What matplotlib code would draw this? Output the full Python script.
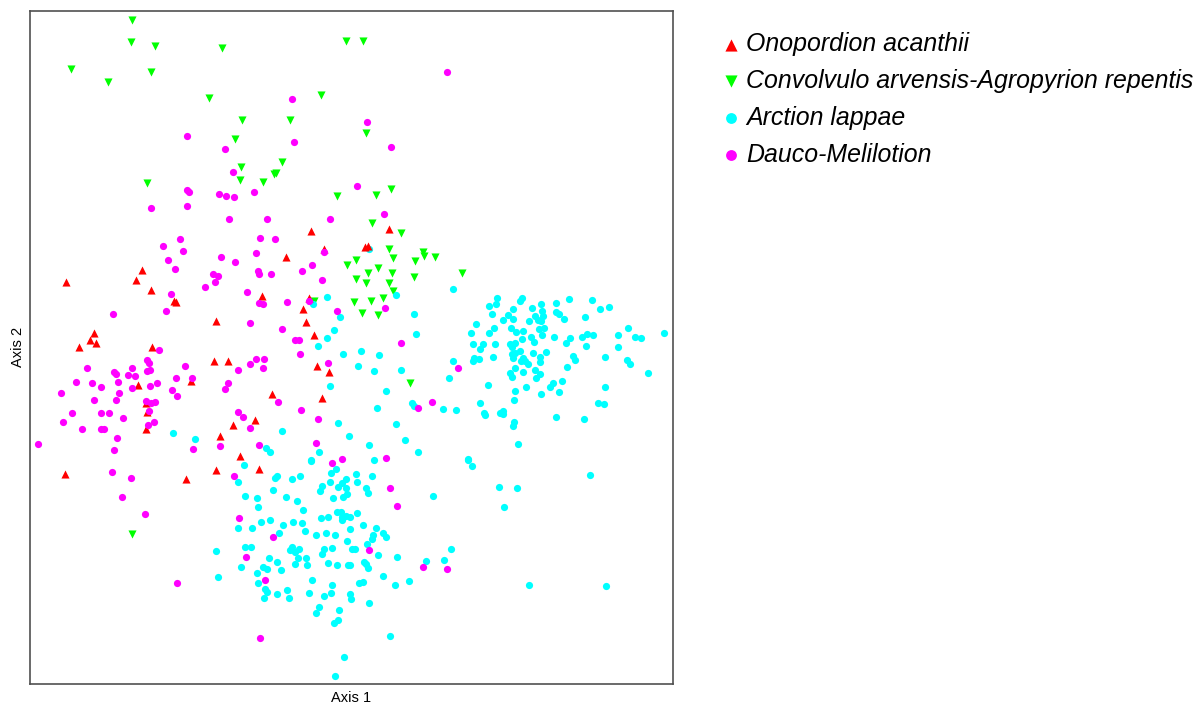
#!/usr/bin/env python3
"""
Ordination scatter of four plant alliances (values read off the picture, in picture pixels).
"""

import matplotlib

matplotlib.use("Agg")
import matplotlib.pyplot as plt

onopordion = [
    (310.7, 230.7), (389.3, 229), (365, 247.3), (368.3, 245.7), (323.7, 249.3), (286.3, 257), (141.7, 269.7),
    (136, 279.7), (66, 281.7), (150.7, 290.3), (174.3, 301), (175.7, 302.3), (262, 295.7), (309.3, 297.7),
    (303.3, 308.7), (215.7, 321), (306, 321.7), (314.3, 335), (94.3, 333), (89.7, 340), (96.3, 343.3),
    (79, 347.3), (152, 347.3), (214, 361), (228.3, 361), (317, 366), (329, 372.3), (191, 381), (138.3, 385.3),
    (272, 394.3), (321.7, 398.3), (146, 403), (147, 411.7), (255, 420), (233, 425.3), (146, 429), (220, 435.7),
    (240.3, 456), (65.3, 474.3), (186.3, 479), (215.7, 470.3), (258.7, 468.7),
]

convolvulo = [
    (131.7, 20), (131.3, 41.7), (155.3, 46), (222.3, 47.7), (346, 40.7), (70.7, 68.7), (108, 82), (151.3, 72),
    (208.7, 98.3), (320.7, 95.3), (242.3, 120.3), (289.7, 120.3), (235.3, 138.7), (282.3, 161.7), (241.3, 167),
    (240.3, 179.7), (275.7, 172.7), (274.3, 174), (263.3, 181.7), (146.7, 182.7), (337.3, 196.3), (363.3, 41.3),
    (365.7, 132.7), (376.3, 195.3), (390.7, 189.3), (371.7, 222.7), (400.7, 232.7), (389.3, 249), (423.3, 251.7),
    (423.7, 256), (435, 256.7), (393, 258.3), (415.3, 261), (355.7, 260), (378, 268.3), (368, 273.3),
    (392.3, 273.3), (462.3, 273.3), (355.7, 279), (414, 277.3), (365.7, 283.3), (389.3, 282.7), (393, 291),
    (354, 301.7), (371, 301), (383, 298), (362, 313.3), (378, 315), (410, 383), (346.7, 265), (314.3, 300.7),
    (132.3, 534),
]

arction = [
    (326.7, 296.7), (313, 304), (339.7, 316.7), (333.7, 330), (326.7, 338.3), (318.3, 346), (342.7, 353.7),
    (361, 350.5), (358, 365.7), (329.7, 385.7), (338, 423.3), (349, 436.3), (281.7, 431), (172.7, 433.3),
    (194.7, 438.7), (266, 447.7), (270.3, 451.7), (319, 452.3), (311, 460), (369.3, 249), (396.3, 294.7),
    (453.3, 289.3), (413.7, 314.3), (416, 333.7), (379.3, 355), (453.3, 360.7), (374, 371.3), (401.3, 370.3),
    (448.7, 378), (385.7, 391.3), (412.3, 402.7), (413.7, 406), (377.3, 408), (442.7, 408.7), (456.3, 410.3),
    (395.7, 424), (368.7, 444.7), (404.7, 440), (418.3, 451.7), (374, 459.7), (467.7, 459.3),
    (497, 297.7), (496, 304), (489.3, 305.7), (522, 298.3), (520.3, 300.7), (512.7, 309), (532, 307.7),
    (541, 304.3), (542, 310.7), (555.7, 303), (568.7, 299.3), (591.7, 300), (609, 307), (600, 309), (555.7, 312),
    (559.3, 314.3), (564, 319), (585.3, 316.7), (492.3, 314.3), (508.3, 315.3), (503, 320), (513.3, 319),
    (529, 320.7), (535.3, 316), (543.3, 316), (537.7, 320), (541.3, 320.7), (476.3, 323.7), (494.3, 327.7),
    (488.7, 333), (470.7, 333), (510.7, 327.7), (515.7, 331.7), (522.7, 331.3), (538.7, 329.3), (544, 328.3),
    (541.7, 335), (530.7, 336.7), (522, 339), (534.3, 342), (554.3, 336.7), (570, 337.7), (566.3, 342.7),
    (582.3, 336.7), (587.3, 333.7), (593, 335.3), (586, 346), (618.3, 335.3), (628.3, 327.7), (634.7, 336.7),
    (641, 337.7), (663.7, 333), (618.3, 347.3), (473, 344.3), (483, 344.3), (480.3, 348.7), (495.3, 344.3),
    (510, 343.7), (514.7, 342.7), (512.3, 347), (519.7, 351.3), (512.3, 353.7), (533.3, 353), (546.3, 351.7),
    (515, 353.3), (513, 358.3), (493.3, 356.7), (474.3, 358.3), (479.3, 359), (472.7, 361), (522.7, 357.7),
    (521.3, 360.7), (525.3, 360.7), (528, 364), (540.3, 357), (539.7, 362), (572.7, 356.3), (575.3, 360),
    (605, 356.7), (627.3, 360), (629.7, 364.3), (567.3, 366.7), (515.3, 368), (510, 372.7), (512.3, 377),
    (523.3, 372), (535, 370.3), (540.3, 374), (536, 378), (648, 373.3), (561.7, 381.3), (553.3, 382.7),
    (550.3, 386.7), (488, 385), (526, 386.7), (515, 390.7), (559.3, 391.7), (541, 394), (605, 387.3),
    (514.3, 400.3), (479.7, 402.7), (598, 403.3), (603.7, 404), (484.3, 413.3), (485.3, 415), (500.3, 413.3),
    (503.3, 411), (503.3, 413.7), (556.3, 417.3), (584.3, 419.3), (513.7, 422.3), (512.7, 426.3), (517.7, 444),
    (468, 460), (471.7, 466), (355.7, 474), (372.3, 476), (590, 474.7), (357.3, 481.7), (365.7, 487.7),
    (368.3, 493), (499, 486.7), (516.7, 487.7), (432.7, 496), (504.3, 507), (356.7, 513), (350, 517.3),
    (362.7, 525.3), (375.7, 527.7), (350, 529), (383.3, 533), (386.3, 536.7), (373.3, 535), (372.3, 539),
    (367, 544.3), (352.3, 548.7), (355, 548.7), (378, 555), (397, 556.7), (451.3, 548.7), (426, 561.3),
    (443.7, 559.7), (363.7, 561.7), (365.7, 564.3), (368, 568), (350, 565), (383, 575.7), (358.7, 582.7),
    (363.3, 581.7), (394.7, 585), (409, 581), (529, 585), (606, 585.7), (350, 594), (351, 598.7), (368.7, 603.3),
    (390, 635.7), (244.3, 464.7), (237.7, 481.7), (310.7, 461), (275, 477.7), (276.7, 476), (291.7, 478.7),
    (300, 476.3), (272.7, 490), (245.3, 496), (256.7, 498.3), (258, 507), (285.7, 496.7), (297.3, 500.7),
    (303.3, 510), (331.3, 473.3), (335.7, 469.3), (330, 482.3), (322.3, 486), (319.7, 490.7), (338.3, 486.7),
    (341.7, 483.3), (345.7, 479), (345.7, 488.3), (346.7, 494), (343.3, 496.7), (332.7, 498), (337.3, 511.7),
    (340.7, 512.3), (346, 515.7), (342, 516.7), (342, 520), (320.7, 517.7), (327.7, 516.7), (293.3, 521.7),
    (301.7, 523), (270.3, 520), (261.3, 522), (282.7, 524.7), (237.7, 528.3), (252.3, 528.3), (305.3, 530.7),
    (278.7, 533), (326, 533), (316.3, 535.3), (335.3, 535.3), (347.3, 540.7), (215.7, 551.3), (245, 546.7),
    (251.3, 546.7), (290, 549.7), (292, 547.3), (299.3, 549.3), (295.3, 552), (323.7, 548.7), (322.3, 553.7),
    (332.3, 548), (269, 558.3), (276.7, 562), (297.7, 557.7), (305.7, 558), (295, 564.3), (307, 565),
    (328.3, 562.7), (337, 565), (348.3, 565), (241.3, 567.3), (263.3, 567.3), (267.3, 569), (281, 570.3),
    (256.7, 572.7), (217.7, 576.7), (257.7, 582.7), (311.7, 580.3), (331.7, 585), (265.3, 589.3), (267.3, 592.3),
    (276.7, 594.3), (287, 590.3), (308.7, 592.7), (264.3, 598), (288.7, 598), (323.7, 595.7), (330.7, 593.3),
    (319.3, 606.7), (339, 610.3), (316.3, 613.3), (337.7, 619.7), (334.3, 623.3), (344.3, 657), (335.3, 676),
]

dauco = [
    (291.7, 99.3), (186.7, 136), (294, 142.3), (224.7, 149), (233, 172), (356.7, 185.7), (187.3, 190.3),
    (189, 192), (218.7, 194.3), (225.7, 195.7), (234, 196.7), (253.7, 192), (151.3, 208), (187.3, 205.7),
    (228.7, 219), (267.3, 219.3), (329.7, 219), (180.3, 238.7), (260.3, 237.7), (275, 238.7), (446.7, 71.7),
    (367.3, 121.7), (390.7, 146.7), (384, 214), (384.7, 307.7), (400.7, 343), (458, 368), (432.3, 401.7),
    (418.3, 408), (386.3, 458.3), (163, 245.7), (183.3, 251), (324.3, 251.7), (220.7, 257), (255.7, 253.3),
    (168.3, 260), (235.3, 262.3), (312.3, 264.7), (175, 269.3), (301.7, 270.7), (258, 270.7), (258.7, 273.7),
    (271.3, 274), (213, 273.7), (218.3, 276.3), (321.7, 280), (215, 282.3), (205, 287), (170.7, 293.7),
    (246.7, 292.3), (309.3, 300.7), (287, 302.3), (259.3, 303.3), (263.3, 304), (165.7, 310.7), (113.3, 314.3),
    (336.7, 310.7), (250.3, 323), (282.3, 329), (295, 339.7), (298.7, 339.7), (159, 350.3), (300, 354.3),
    (146.7, 359.7), (149, 362.7), (256, 358.7), (264.3, 358.7), (249.7, 364.3), (262.7, 368), (184.7, 365.7),
    (86.7, 368), (131.7, 368), (237.7, 370.3), (327.7, 362.7), (113.7, 371.7), (116.3, 374), (147, 371),
    (150.3, 370.3), (127.7, 375), (134.7, 375.7), (175.7, 378), (192, 378), (76, 382), (92, 383.3), (118, 382),
    (101, 387), (132.3, 388), (150, 386.3), (157.3, 382.7), (227.7, 382.7), (225.3, 389), (61.3, 392.7),
    (119.3, 392.7), (172, 390.3), (176.7, 395.7), (93.7, 399.7), (115.7, 399.7), (278, 401.7), (146, 401),
    (151.3, 403.3), (155.3, 402), (300.7, 409.7), (72, 413.3), (101, 412.7), (108.7, 413.3), (149, 411),
    (238.3, 412.3), (243, 417), (123, 418), (317.7, 418.7), (62.7, 422.3), (153.7, 421.7), (148.3, 424.7),
    (250.3, 428), (81.7, 428.7), (101.3, 428.7), (104.3, 428.7), (117, 438), (37.7, 444), (258.7, 444.7),
    (220, 445.7), (316.3, 443.3), (193.3, 448.7), (114, 450), (342, 458.7), (332, 463), (111.7, 472.3),
    (130.7, 477.7), (234, 476.3), (121.7, 497), (145.3, 513.7), (239, 518.3), (273.3, 536.7), (246, 557.3),
    (265, 579.7), (177.3, 583.3), (260.3, 637.7), (390, 488.3), (397, 506), (369.3, 550.3), (423, 567),
    (446.7, 569),
]

group_names = [
    "Onopordion acanthii",
    "Convolvulo arvensis-Agropyrion repentis",
    "Arction lappae",
    "Dauco-Melilotion",
]

plt.rcParams["font.family"] = ["Liberation Sans", "DejaVu Sans"]

fig = plt.figure(figsize=(11.96, 7.04), dpi=100)
ax = fig.add_axes([30 / 1196, 1 - 683.5 / 704, 642.5 / 1196, 672.5 / 704])

# picture pixels, so the vertical axis runs downwards
ax.set_xlim(30, 672.5)
ax.set_ylim(683.5, 11)

# (points, colour, marker, size, layer) - legend order differs from draw order
styles = [
    (onopordion, "#ff0000", "^", 34, 4),
    (convolvulo, "#00ff00", "v", 34, 2),
    (arction, "#00ffff", "o", 27, 3),
    (dauco, "#ff00ff", "o", 27, 5),
]
for name, (points, color, marker, size, layer) in zip(group_names, styles):
    xs = [p[0] for p in points]
    ys = [p[1] for p in points]
    ax.scatter(xs, ys, s=size, c=color, marker=marker, linewidths=0, zorder=layer, label=name)

ax.set_xticks([])
ax.set_yticks([])
for spine in ax.spines.values():
    spine.set_color("#505050")
    spine.set_linewidth(1.2)

ax.set_xlabel("Axis 1", fontsize=10.5, labelpad=5.4)
ax.set_ylabel("Axis 2", fontsize=10.5, labelpad=3.8)

ax.legend(
    loc="upper left",
    bbox_to_anchor=(0.6008, 0.9545),
    bbox_transform=fig.transFigure,
    frameon=False,
    prop={"style": "italic", "size": 17.9},
    markerscale=1.5,
    scatterpoints=1,
    handlelength=1.0,
    handletextpad=0.1,
    labelspacing=0.52,
    borderpad=0,
    borderaxespad=0,
)

fig.savefig("out.png", dpi=100)
